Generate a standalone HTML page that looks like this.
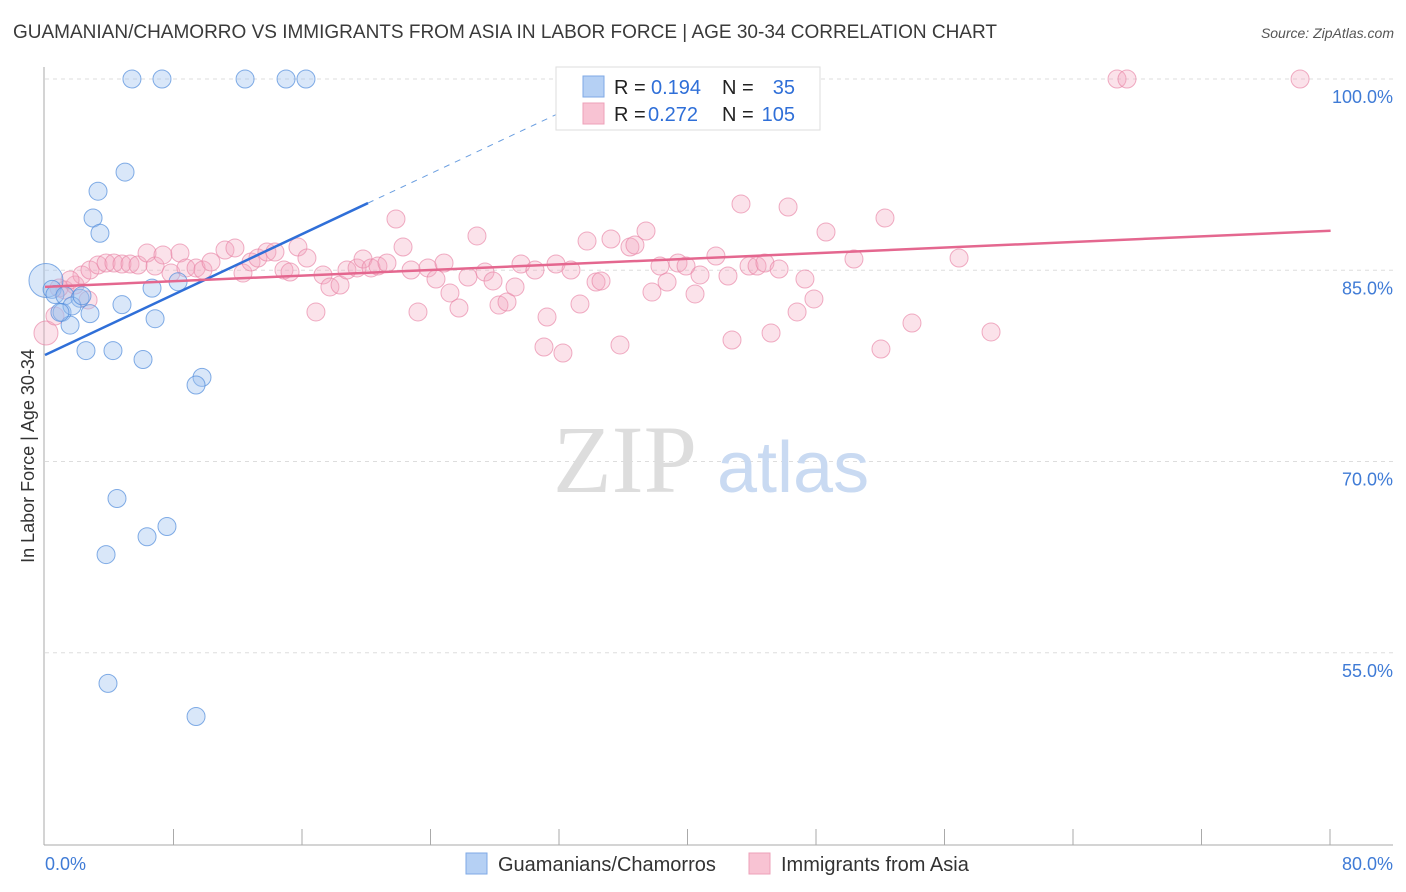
<!DOCTYPE html>
<html><head><meta charset="utf-8"><style>
body{margin:0;background:#fff;font-family:"Liberation Sans",sans-serif;}
#wrap{position:relative;width:1406px;height:892px;overflow:hidden;}
.t{position:absolute;white-space:nowrap;}
</style></head><body>
<div id="wrap">
<div class="t" style="left:13px;top:22px;font-size:19px;color:#3a3a3a;">GUAMANIAN/CHAMORRO VS IMMIGRANTS FROM ASIA IN LABOR FORCE | AGE 30-34 CORRELATION CHART</div>
<div class="t" style="right:12px;top:25px;font-size:14px;color:#555;font-style:italic;">Source: ZipAtlas.com</div>
<svg id="svg" width="1406" height="892" style="position:absolute;left:0;top:0"></svg>
</div>
<script>
const blueX=[5.41,7.28,12.45,15.0,16.24,4.98,3.30,2.99,3.42,0.06,0.44,0.62,1.24,2.18,1.06,1.68,2.80,1.56,4.79,6.66,8.28,6.85,2.55,4.23,6.10,9.77,9.40,4.48,3.80,7.59,6.35,3.92,9.40,0.93,2.30];
const blueY=[100,100,100,100,100,92.7,91.2,89.1,87.9,84.2,83.5,83.1,83.0,82.8,81.7,82.2,81.6,80.7,82.3,83.6,84.1,81.2,78.7,78.7,78.0,76.6,76.0,67.1,62.7,64.9,64.1,52.6,50.0,81.7,83.0];
const pinkPx=[[46,333],[55,316],[65,290],[75,285],[82,275],[90,270],[98,265],[106,263],[114,263],[122,264],[130,264],[138,265],[147,253],[155,266],[163,255],[171,273],[180,253],[186,268],[196,268],[203,270],[211,262],[225,250],[235,248],[243,273],[251,262],[258,258],[267,252],[275,252],[284,270],[290,272],[298,247],[307,258],[316,312],[323,275],[330,287],[340,285],[347,270],[357,268],[363,259],[371,268],[378,266],[387,263],[396,219],[403,247],[411,270],[418,312],[428,268],[436,279],[444,263],[450,293],[459,308],[468,277],[477,236],[485,272],[493,281],[499,305],[507,302],[515,287],[521,264],[535,270],[544,347],[547,317],[556,264],[563,353],[571,270],[580,304],[587,241],[596,282],[601,281],[611,239],[620,345],[630,247],[635,245],[646,231],[652,292],[660,266],[667,282],[678,263],[686,266],[695,294],[700,275],[716,256],[728,276],[732,340],[741,204],[749,266],[757,266],[765,263],[771,333],[779,269],[788,207],[797,312],[805,279],[814,299],[826,232],[854,259],[881,349],[885,218],[912,323],[959,258],[991,332],[1117,79],[1127,79],[1300,79],[59,288],[70,280],[88,300]];
// pink values in data units
const pinkX=pinkPx.map(p=>+((p[0]-45)/16.07).toFixed(2));
const pinkY=pinkPx.map(p=>+(100-(p[1]-79)/12.75).toFixed(2));
const xTicks=[0,10,20,30,40,50,60,70,80];
const yTicks=[100,85,70,55];
const yLabels=["100.0%","85.0%","70.0%","55.0%"];
const blueLine=[78.35,0.593];
const pinkLine=[83.7,0.055];

const NS="http://www.w3.org/2000/svg";
const svg=document.getElementById('svg');
const sx=v=>45+v*16.07;
const sy=v=>79+(100-v)*12.75;
function mk(tag,a,name,parent){const e=document.createElementNS(NS,tag);for(const k in a)e.setAttribute(k,a[k]);


(parent||svg).appendChild(e);return e;}
yTicks.forEach((v,i)=>{
 mk('line',{x1:45,x2:1393,y1:sy(v),y2:sy(v),stroke:'#ddd','stroke-dasharray':'4,4'},'gridline');
 const t=mk('text',{x:1393,y:sy(v)+24,'text-anchor':'end','font-size':18,fill:'#3f7bd6','font-family':'Liberation Sans'},'y-tick-label');t.textContent=yLabels[i];
});
mk('line',{x1:44,x2:44,y1:67,y2:845,stroke:'#aaa'},'y-axis');
mk('line',{x1:44,x2:1393,y1:845,y2:845,stroke:'#aaa'},'x-axis');
for(let i=1;i<=10;i++){const x=45+i*128.5;mk('line',{x1:x,x2:x,y1:829,y2:845,stroke:'#aaa'},'x-tick');}
let w=mk('text',{x:553,y:492,'font-size':96,fill:'#ddd','font-family':'Liberation Serif'},'watermark-zip');w.textContent='ZIP';
w=mk('text',{x:717,y:492,'font-size':72,fill:'#c9daf2','font-family':'Liberation Sans'},'watermark-atlas');w.textContent='atlas';
pinkX.forEach((x,i)=>mk('circle',{cx:sx(x),cy:sy(pinkY[i]),r:i==0?12:9,fill:'rgba(244,166,190,0.33)',stroke:'rgba(232,130,165,0.65)','stroke-width':1},'pink-point'));
blueX.forEach((x,i)=>mk('circle',{cx:sx(x),cy:sy(blueY[i]),r:i==9?17:9,fill:'rgba(160,196,240,0.4)',stroke:'rgba(80,140,220,0.7)','stroke-width':1},'blue-point'));
mk('line',{x1:sx(0),y1:sy(blueLine[0]),x2:sx(20.1),y2:sy(blueLine[0]+blueLine[1]*20.1),stroke:'#2f6fd8','stroke-width':2.5},'blue-trend-line');
mk('line',{x1:sx(20.1),y1:sy(blueLine[0]+blueLine[1]*20.1),x2:sx(34),y2:sy(blueLine[0]+blueLine[1]*34),stroke:'#6a9ee0','stroke-width':1,'stroke-dasharray':'6,6'},'blue-trend-extension');
mk('line',{x1:sx(0),y1:sy(pinkLine[0]),x2:sx(80),y2:sy(pinkLine[0]+pinkLine[1]*80),stroke:'#e4678f','stroke-width':2.5},'pink-trend-line');
let t=mk('text',{x:45,y:870,'font-size':18,fill:'#3f7bd6','font-family':'Liberation Sans'},'x-min-label');t.textContent='0.0%';
t=mk('text',{x:1393,y:870,'text-anchor':'end','font-size':18,fill:'#3f7bd6','font-family':'Liberation Sans'},'x-max-label');t.textContent='80.0%';
t=mk('text',{x:34,y:456,'text-anchor':'middle','font-size':18,fill:'#333','font-family':'Liberation Sans',transform:'rotate(-90 34 456)'},'y-axis-title');t.textContent='In Labor Force | Age 30-34';
mk('rect',{x:556,y:67,width:264,height:63,fill:'#fff',stroke:'#ddd'},'legend-box');
mk('rect',{x:583,y:76,width:21,height:21,fill:'#b5d0f4',stroke:'#7fa9e6'},'legend-swatch-blue');
mk('rect',{x:583,y:103,width:21,height:21,fill:'#f8c3d3',stroke:'#eea0b8'},'legend-swatch-pink');
function lt(x,y,s,c,n,anchor){const e=mk('text',{x:x,y:y,'font-size':20,fill:c,'font-family':'Liberation Sans','text-anchor':anchor||'start'},n);e.textContent=s;}
lt(614,94,'R =','#222','legend-r-label');lt(651,94,'0.194','#2f6fd8','legend-r-blue');lt(722,94,'N =','#222','legend-n-label');lt(795,94,'35','#2f6fd8','legend-n-blue','end');
lt(614,121,'R =','#222','legend-r-label');lt(648,121,'0.272','#2f6fd8','legend-r-pink');lt(722,121,'N =','#222','legend-n-label');lt(795,121,'105','#2f6fd8','legend-n-pink','end');
mk('rect',{x:466,y:853,width:21,height:21,fill:'#b5d0f4',stroke:'#7fa9e6'},'legend-entry-guamanian-swatch');
lt(498,871,'Guamanians/Chamorros','#333','legend-entry-guamanian');
mk('rect',{x:749,y:853,width:21,height:21,fill:'#f8c3d3',stroke:'#eea0b8'},'legend-entry-asia-swatch');
lt(781,871,'Immigrants from Asia','#333','legend-entry-asia');
</script>
</body></html>
